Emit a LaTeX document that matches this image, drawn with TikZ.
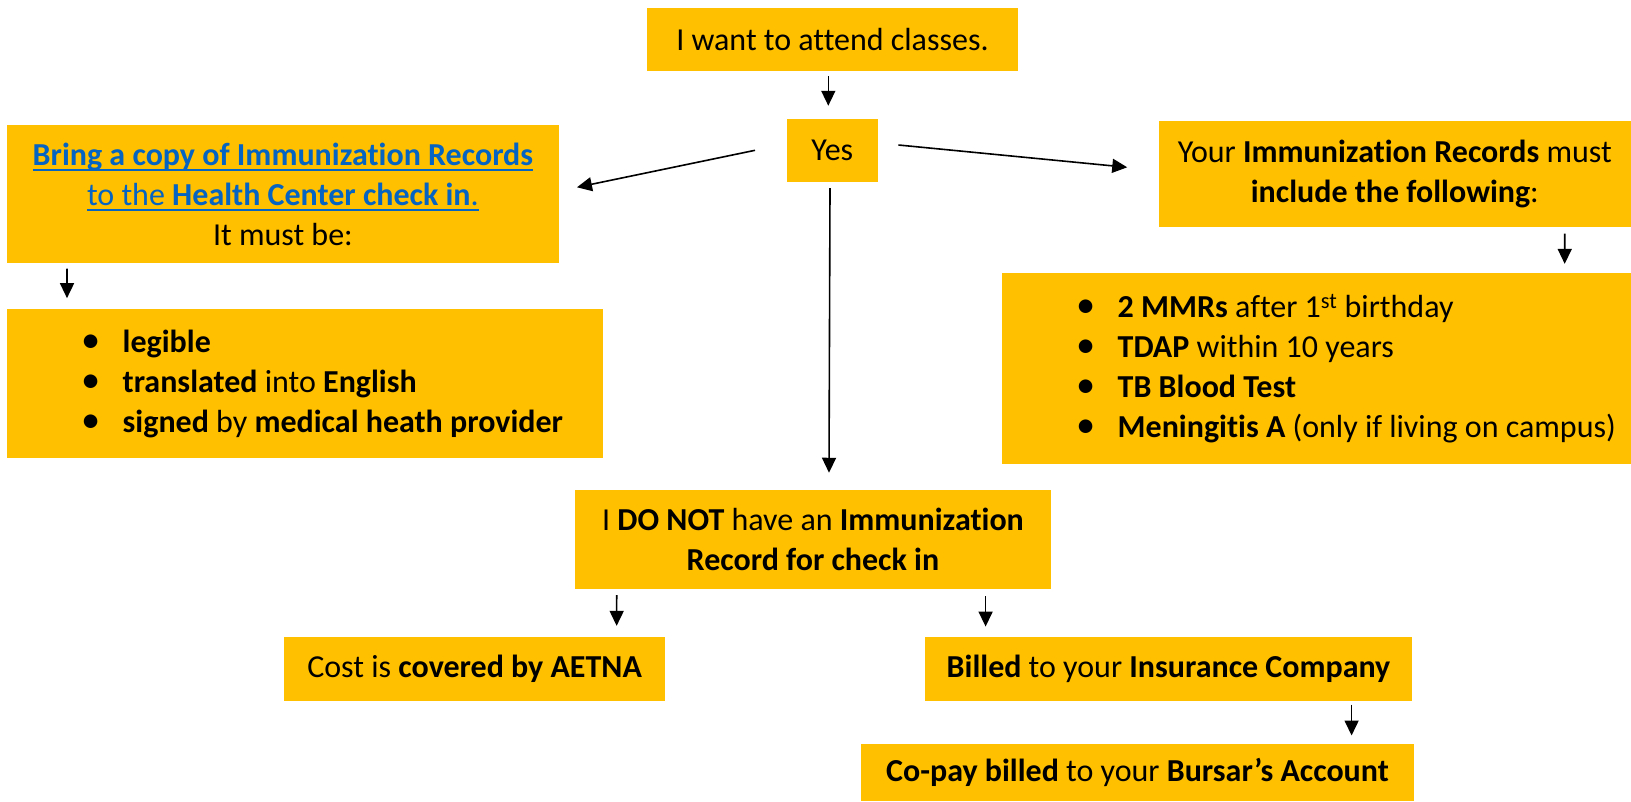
\documentclass[tikz,border=0pt]{standalone}
\usepackage{fontspec}
\setmainfont[Ligatures=NoCommon]{Carlito}
\usetikzlibrary{arrows.meta}
\definecolor{gold}{HTML}{FFC000}
\definecolor{linkblue}{HTML}{0563C1}
\newcommand\myul[1]{\leavevmode\setbox0=\hbox{#1}\rlap{\rule[-5.5pt]{\wd0}{1.6pt}}\box0}
\newcommand\bul{\makebox[41.5pt][l]{\scalebox{1.2}{•}}}
\begin{document}
\begin{tikzpicture}[x=1pt,y=-1pt,
  font=\fontsize{32}{40}\selectfont,
  box/.style={fill=gold, draw=none, inner sep=0pt, align=center},
  listtext/.style={anchor=west, align=left, inner sep=0pt},
  arr/.style={-{Triangle[length=15pt,width=14pt]}, line width=1.6pt}]
\useasboundingbox[fill=white] (0,0) rectangle (1631,801);

\node[box, minimum width=371pt, minimum height=62.4pt] (top) at (832.5,39.5) {I want to attend classes.};
\node[box, minimum width=90.7pt, minimum height=62.7pt] (yes) at (832.3,150.3) {Yes};
\node[box, minimum width=551.7pt, minimum height=137.7pt] (b1) at (282.9,193.9)
  {{\color{linkblue}\myul{\textbf{Bring a copy of Immunization Records}}}\\
   {\color{linkblue}\myul{to the \textbf{Health Center check in}.}}\\
   It must be:};
\node[box, minimum width=596pt, minimum height=149.3pt] (b2) at (305,383.7) {};
\node[listtext] (b2t) at (81,383.7)
  {\bul\textbf{legible}\\
   \bul\textbf{translated} into \textbf{English}\\
   \bul\textbf{signed} by \textbf{medical heath provider}};
\node[box, minimum width=472.5pt, minimum height=106.3pt] (b3) at (1394.8,174.2)
  {Your \textbf{Immunization Records} must\\ \textbf{include the following}:};
\node[box, minimum width=629.4pt, minimum height=190.7pt] (b4) at (1316.3,368.7) {};
\node[listtext] (b4t) at (1076,368.7)
  {\bul\textbf{2 MMRs} after 1\textsuperscript{st} birthday\\
   \bul\textbf{TDAP} within 10 years\\
   \bul\textbf{TB Blood Test}\\
   \bul\textbf{Meningitis A} (only if living on campus)};
\node[box, minimum width=476pt, minimum height=98.7pt] (b5) at (813,539.3)
  {I \textbf{DO NOT} have an \textbf{Immunization}\\ \textbf{Record for check in}};
\node[box, minimum width=381.3pt, minimum height=63.7pt] (b6) at (474.6,668.9)
  {Cost is \textbf{covered by AETNA}};
\node[box, minimum width=487pt, minimum height=63.7pt] (b7) at (1168.5,668.9)
  {\textbf{Billed} to your \textbf{Insurance Company}};
\node[box, minimum width=553pt, minimum height=57pt] (b8) at (1137.5,772.5)
  {\textbf{Co-pay billed} to your \textbf{Bursar’s Account}};

\draw[arr] ([shift={(-4.2pt,-5.3pt)}]top.south) -- ([shift={(-4pt,13pt)}]yes.north);
\draw[arr] ([xshift=-31.7pt]yes.west) -- ([shift={(18pt,6.6pt)}]b1.east);
\draw[arr] ([shift={(20.6pt,5.3pt)}]yes.east) -- ([shift={(-31.1pt,6.9pt)}]b3.west);
\draw[arr] ([shift={(-2.3pt,-6.3pt)}]yes.south) -- ([shift={(16pt,17pt)}]b5.north);
\draw[arr] ([shift={(60.2pt,-5.6pt)}]b1.south west) -- ([shift={(60.2pt,10.7pt)}]b2.north west);
\draw[arr] ([shift={(-66.5pt,-6pt)}]b3.south east) -- ([shift={(-66.5pt,9.3pt)}]b4.north east);
\draw[arr] ([shift={(41.9pt,-6.3pt)}]b5.south west) -- ([shift={(332.9pt,11pt)}]b6.north west);
\draw[arr] ([shift={(410.8pt,-7.3pt)}]b5.south west) -- ([shift={(60.8pt,10.3pt)}]b7.north west);
\draw[arr] ([shift={(426.8pt,-3.6pt)}]b7.south west) -- ([shift={(490.8pt,8.3pt)}]b8.north west);
\end{tikzpicture}
\end{document}
